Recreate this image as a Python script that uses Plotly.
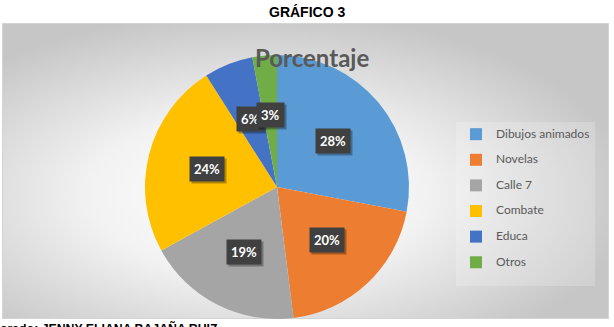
import base64, math
import plotly.graph_objects as go

W, H = 614, 327

categories = ["Dibujos animados", "Novelas", "Calle 7", "Combate", "Educa", "Otros"]
values = [28, 20, 19, 24, 6, 3]
colors = ["#5B9BD5", "#ED7D31", "#A5A5A5", "#FFC000", "#4472C4", "#70AD47"]
label_text = [f"{v}%" for v in values]

# pie geometry (pixels)
cx, cy, R = 277, 187, 132
xdom = [(cx - R) / W, (cx + R) / W]
ydom = [(H - cy - R) / H, (H - cy + R) / H]

# legend labels with extra blank line to widen item spacing
legend_labels = [f"<span style='font-size:12px'>{c}</span><br> " for c in categories]

fig = go.Figure()
fig.add_trace(go.Pie(
    labels=legend_labels,
    values=values,
    sort=False,
    direction="clockwise",
    rotation=0,
    marker=dict(colors=colors, line=dict(width=0)),
    textinfo="none",
    hoverinfo="none",
    domain=dict(x=xdom, y=ydom),
    showlegend=True,
))

# background gradient image
bx0, by0, bx1, by1 = 2, 23, 609, 319
bw, bh = bx1 - bx0, by1 - by0
svg = (f'<svg xmlns="http://www.w3.org/2000/svg" width="{bw}" height="{bh}" viewBox="0 0 {bw} {bh}">'
       '<defs><radialGradient id="g" cx="0.42" cy="0.58" r="0.62">'
       '<stop offset="0" stop-color="#ffffff"/><stop offset="0.45" stop-color="#f2f2f2"/>'
       '<stop offset="1" stop-color="#c6c6c6"/></radialGradient></defs>'
       f'<rect x="0.5" y="0.5" width="{bw-1}" height="{bh-1}" fill="url(#g)" stroke="#d4d4d4" stroke-width="1"/></svg>')
src = "data:image/svg+xml;base64," + base64.b64encode(svg.encode()).decode()

annotations = []
# data labels computed from the values
total = sum(values)
cum = 0
frac = 0.55
for v, t in zip(values, label_text):
    theta = 2 * math.pi * (cum + v / 2) / total
    cum += v
    px = cx + frac * R * math.sin(theta)
    py = cy - frac * R * math.cos(theta)
    common = dict(x=px / W, y=1 - py / H, xref="paper", yref="paper", showarrow=False,
                  xanchor="center", yanchor="middle", text=t, borderpad=4)
    annotations.append(dict(**common, xshift=2, yshift=-2, bgcolor="rgba(0,0,0,0.3)",
                            font=dict(family="Lato", size=13, color="rgba(0,0,0,0)", weight="bold")))
    annotations.append(dict(**common, bgcolor="#404040",
                            font=dict(family="Lato", size=13, color="#ffffff", weight="bold")))

annotations += [
    dict(text="<b>GRÁFICO 3</b>", x=307 / W, y=1 - 12 / H, xref="paper", yref="paper",
         xanchor="center", yanchor="middle", showarrow=False,
         font=dict(family="Liberation Sans", size=14, color="#000000")),
    dict(text="<b>Porcentaje</b>", x=312 / W, y=1 - 58 / H, xref="paper", yref="paper",
         xanchor="center", yanchor="middle", showarrow=False,
         font=dict(family="Lato", size=24, color="#595959")),
    dict(text="<b>Elaborado: JENNY ELIANA BAJAÑA RUIZ</b>", x=220 / W, y=1 - 319 / H,
         xref="paper", yref="paper", xanchor="right", yanchor="top", showarrow=False,
         font=dict(family="Liberation Sans", size=12.3, color="#000000")),
]

fig.update_layout(
    width=W, height=H,
    margin=dict(l=0, r=0, t=0, b=0),
    paper_bgcolor="#ffffff",
    images=[dict(source=src, xref="paper", yref="paper", x=bx0 / W, y=1 - by0 / H,
                 sizex=bw / W, sizey=bh / H, sizing="stretch", layer="below",
                 xanchor="left", yanchor="top")],
    legend=dict(x=456 / W, y=1 - 122 / H, xanchor="left", yanchor="top",
                font=dict(family="Lato", size=8.7, color="#595959"),
                valign="top", bgcolor="rgba(255,255,255,0.2)", itemclick=False),
    annotations=annotations,
)

fig.write_html("out.html")
